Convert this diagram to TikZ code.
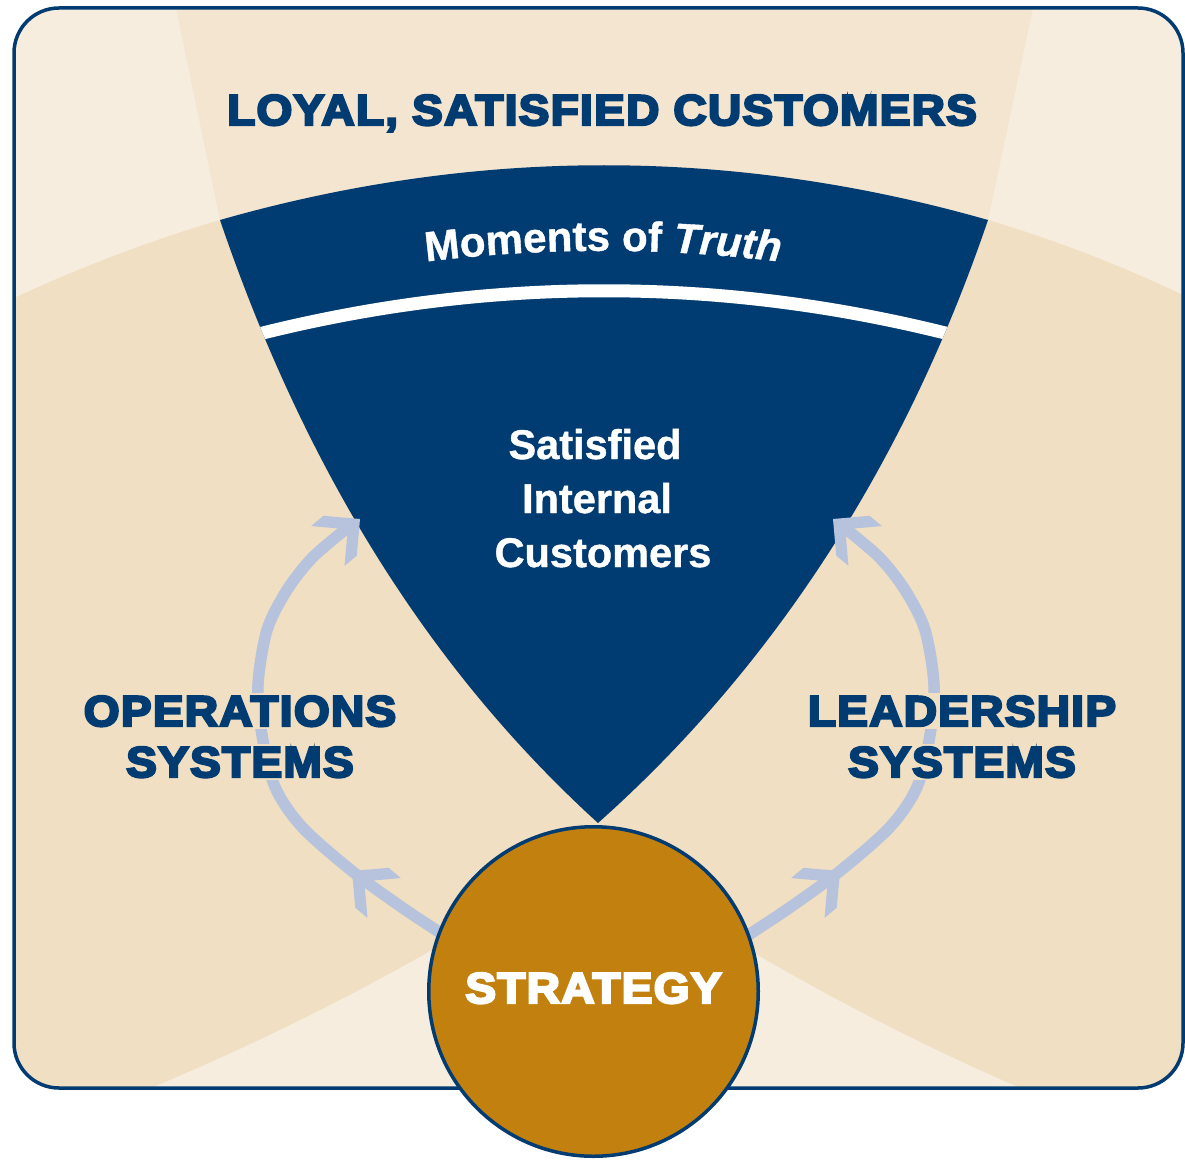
\documentclass[tikz,border=0pt]{standalone}
\usepackage{fontspec}
\setmainfont{Liberation Sans}
\newfontfamily\heavyfont[FakeBold=5.5,FakeStretch=1.07,LetterSpace=3]{Liberation Sans Bold}
\newfontfamily\mtfont[FakeBold=1]{Liberation Sans Bold}
\newfontfamily\mtitfont[FakeBold=1]{Liberation Sans Bold Italic}
\usetikzlibrary{decorations.text}

\definecolor{bgLight}{HTML}{F6EDDF}
\definecolor{topTan}{HTML}{F3E5CF}
\definecolor{lobeTan}{HTML}{F0DFC2}
\definecolor{navy}{HTML}{003B71}
\definecolor{arrowBlue}{HTML}{B7C3DC}
\definecolor{gold}{HTML}{C2800F}

\tikzset{
  heavytext/.style={font=\heavyfont\fontsize{43}{43}\selectfont, text=navy, anchor=base, inner sep=0pt},
  halotext/.style={heavytext, fill=lobeTan, inner sep=3pt},
  wedgetext/.style={font=\mtfont\fontsize{41.5}{41.5}\selectfont, text=white, anchor=base, inner sep=0pt},
  shaft/.style={draw=arrowBlue, line width=11.5pt},
  chevron/.pic={\fill[arrowBlue] (0,0) -- (-26,26) -- (-42,26) -- (-16,0) -- (-42,-26) -- (-26,-26) -- cycle;}
}

\begin{document}
\begin{tikzpicture}[x=1pt,y=1pt]
\useasboundingbox (0,0) rectangle (1185,-1161);

% panel background
\fill[bgLight, rounded corners=45pt] (14,-8) rectangle (1183,-1088);

% tinted regions inside the panel
\begin{scope}
  \clip[rounded corners=45pt] (14,-8) rectangle (1183,-1088);
  \fill[topTan] (174,0) -- (176,-8) -- (220,-220) -- (604,-400) -- (988,-220) -- (1033,-8) -- (1035,0) -- cycle;
  \fill[lobeTan] (0,-303) -- (14,-298) .. controls (81,-267) and (149,-241) .. (220,-220)
     -- (598,-823) -- (598,-900) -- (432,-950) .. controls (342,-1001) and (249,-1047) .. (153,-1087)
     -- (125,-1100) -- (0,-1100) -- cycle;
  \fill[lobeTan] (1200,-300) -- (1183,-295) .. controls (1120,-265) and (1055,-240) .. (988,-220)
     -- (598,-823) -- (598,-900) -- (749,-950) .. controls (836,-1001) and (926,-1047) .. (1018,-1087)
     -- (1045,-1100) -- (1200,-1100) -- cycle;
\end{scope}

% the funnel
\def\funnelpath{(220,-220) .. controls (476,-147) and (732,-147) .. (988,-220)
  .. controls (908,-455) and (780,-661) .. (598,-823)
  .. controls (420,-661) and (300,-455) .. (220,-220) -- cycle}
\fill[navy] \funnelpath;
\begin{scope}
  \clip \funnelpath;
  \draw[white, line width=13pt] (200,-350) .. controls (469,-271) and (739,-271) .. (1008,-350);
\end{scope}

% curved heading inside the funnel
\path[decorate, decoration={text along path, text align=center, text color=white,
  text={|\mtfont\fontsize{42}{42}\selectfont|Moments of |\mtitfont\fontsize{42}{42}\selectfont|Truth}}]
  (380,-268) .. controls (529,-245) and (677,-245) .. (826,-268);

\node[wedgetext] (sat1) at (595,-459) {Satisfied};
\node[wedgetext] (sat2) at (597,-513) {Internal};
\node[wedgetext] (sat3) at (603,-567) {Customers};

% circular arrows from strategy into the funnel
\draw[shaft] plot[smooth] coordinates {(470,-952) (436,-930) (400,-906) (352,-871) (302,-827) (275,-787)
  (262,-735) (258,-685) (267,-630) (287,-590) (313,-557) (351,-525)};
\draw[shaft] plot[smooth] coordinates {(722,-952) (756,-930) (792,-906) (840,-871) (890,-827) (917,-787)
  (930,-735) (934,-685) (925,-630) (905,-590) (879,-557) (841,-525)};
\pic[rotate=140] at (352,-871) {chevron};
\pic[rotate=40] at (360,-519) {chevron};
\pic[rotate=40] at (840,-871) {chevron};
\pic[rotate=140] at (833,-519) {chevron};

% labels of the two systems
\node[halotext] (ops1) at (240,-726) {OPERATIONS};
\node[halotext] (ops2) at (240,-777) {SYSTEMS};
\node[halotext] (lead1) at (962,-726) {LEADERSHIP};
\node[halotext] (lead2) at (962,-777) {SYSTEMS};

% heading
\node[heavytext] (title) at (602,-125) {LOYAL, SATISFIED CUSTOMERS};

% panel frame
\draw[navy, line width=3.5pt, rounded corners=45pt] (14,-8) rectangle (1183,-1088);

% strategy disc
\node[circle, fill=gold, draw=navy, line width=3.5pt, minimum size=329.5pt, inner sep=0pt] (strategy) at (593.5,-991.5) {};
\node[heavytext, text=white] (stratlabel) at (593.5,-1003) {STRATEGY};
\end{tikzpicture}
\end{document}
